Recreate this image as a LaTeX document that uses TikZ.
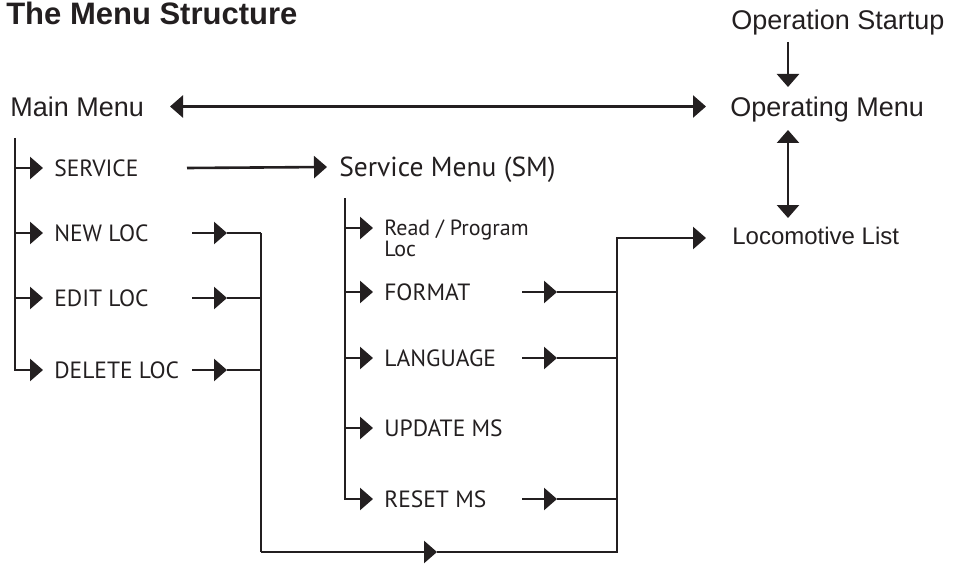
\documentclass[tikz,border=0pt]{standalone}
\usepackage{fontspec}
\setmainfont{Liberation Sans}
\newfontfamily\myr{PT Sans}
\usetikzlibrary{arrows.meta,calc}
\definecolor{ink}{HTML}{231F20}
\begin{document}
\begin{tikzpicture}[x=1pt,y=-1pt,
  line width=2.6pt, draw=ink, text=ink,
  arr/.style={-{Triangle[length=13pt,width=22pt]}},
  darr/.style={{Triangle[length=13pt,width=22pt]}-{Triangle[length=13pt,width=22pt]}},
  big/.style={font=\fontsize{27}{30}\selectfont, anchor=west, inner sep=0pt, text height=19.3pt, text depth=0pt},
  mid/.style={font=\fontsize{24}{26}\selectfont, anchor=west, inner sep=0pt, text height=17.2pt, text depth=0pt},
  sub/.style={font=\myr\fontsize{23.5}{26}\selectfont, anchor=west, inner sep=0pt, text height=16.5pt, text depth=0pt},
  subl/.style={font=\myr\fontsize{27.5}{30}\selectfont, anchor=west, inner sep=0pt, text height=19.3pt, text depth=0pt}
]
\useasboundingbox (0,0) rectangle (965,564);

% texts
\node[font=\bfseries\fontsize{31}{33}\selectfont, anchor=base west, inner sep=0pt] (title) at (5,25) {The Menu Structure};
\node[big] (os) at (730,20) {Operation Startup};
\node[big] (om) at (729,107) {Operating Menu};
\node[big] (mm) at (9,107) {Main Menu};
\node[mid] (ll) at (731,236) {Locomotive List};
\node[subl] (sm) at (338,167) {Service Menu (SM)};
\node[sub] (sv) at (53,168) {SERVICE};
\node[sub] (nl) at (53,233) {NEW LOC};
\node[sub] (el) at (53,298) {EDIT LOC};
\node[sub] (dl) at (53,370) {DELETE LOC};
\node[font=\myr\fontsize{22}{20}\selectfont, anchor=base west, inner sep=0pt] (rp) at (383,235) {\vtop{\hbox{Read / Program}\hbox{Loc}}};
\node[sub] (fm) at (383,292) {FORMAT};
\node[sub] (lg) at (383,358) {LANGUAGE};
\node[sub] (up) at (383,428) {UPDATE MS};
\node[sub] (rs) at (383,499) {RESET MS};

% top right
\coordinate (mmR) at (170,106.5);
\coordinate (omL) at (706,106.5);
\draw[darr] (mmR) -- (omL);
\coordinate (osB) at (788,42);
\coordinate (omT) at (788,87);
\draw[arr] (osB) -- (omT);
\coordinate (omB) at (788,130);
\coordinate (llT) at (788,218);
\draw[darr] (omB) -- (llT);

% main menu tree
\coordinate (t0) at (15,138);
\draw[arr] (t0) |- ([xshift=-10pt]dl.west);
\foreach \n in {sv,nl,el}{
  \draw[arr] (t0 |- \n.west) -- ([xshift=-10pt]\n.west);
}
\draw[arr] ($(sv.west)+(134,0)$) -- ([xshift=-11pt]sm.west);

% bus coordinates
\coordinate (b1) at (261,552);
\coordinate (b2) at (617,552);
\coordinate (bt) at (437,552);
\coordinate (lle) at (706,238);

\foreach \n in {nl,el,dl}{
  \coordinate (\n-s) at ($(\n.west)+(139,0)$);
  \coordinate (\n-t) at ($(\n.west)+(174,0)$);
  \draw[arr] (\n-s) -- (\n-t);
  \draw (\n-t) -- (\n-t -| b1);
}
\draw (b1 |- nl.west) -- (b1);
\draw[arr] (b1) -- (bt);
\draw[arr] (bt) -- (b2) |- (lle);

% service menu tree
\coordinate (s0) at (345,198);
\coordinate (rpy) at (373,228);
\draw[arr] (s0) |- ([xshift=-10pt]rs.west);
\draw[arr] (s0 |- rpy) -- (rpy);
\foreach \n in {fm,lg,up}{
  \draw[arr] (s0 |- \n.west) -- ([xshift=-10pt]\n.west);
}
\foreach \n in {fm,lg,rs}{
  \coordinate (\n-s) at ($(\n.west)+(139,0)$);
  \coordinate (\n-t) at ($(\n.west)+(174,0)$);
  \draw[arr] (\n-s) -- (\n-t);
  \draw (\n-t) -- (\n-t -| b2);
}
\end{tikzpicture}
\end{document}
